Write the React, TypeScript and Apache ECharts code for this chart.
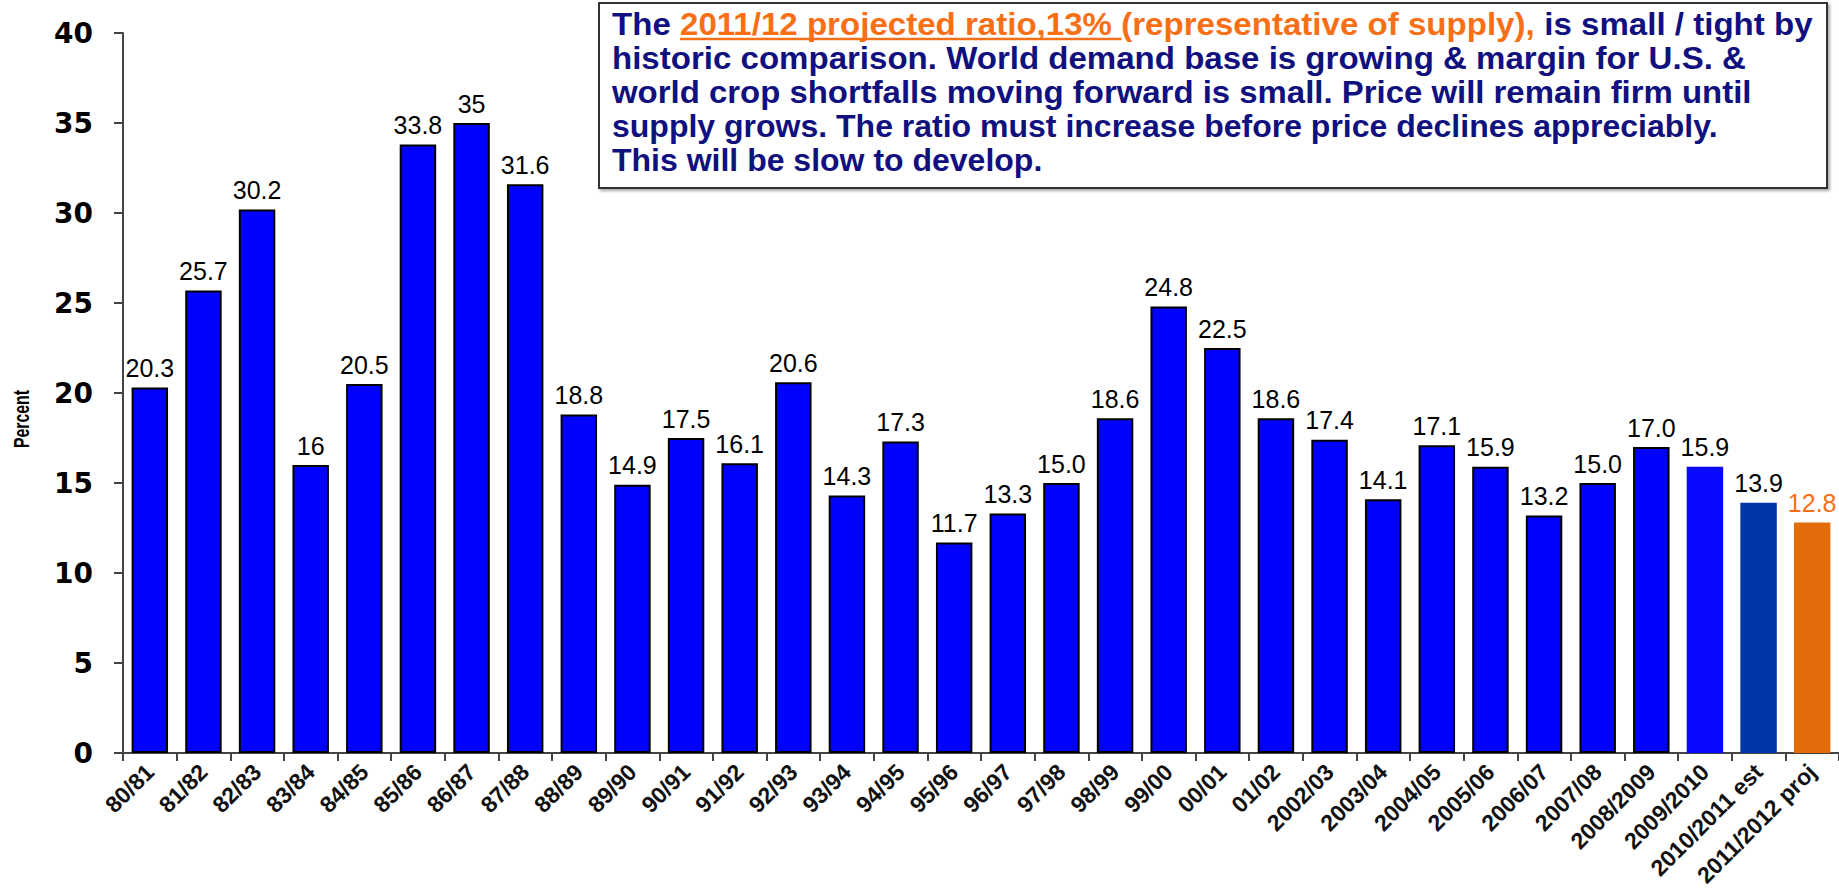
import React, { useEffect, useRef } from "react";
import * as echarts from "echarts";

const categories = [
  "80/81", "81/82", "82/83", "83/84", "84/85", "85/86", "86/87", "87/88",
  "88/89", "89/90", "90/91", "91/92", "92/93", "93/94", "94/95", "95/96",
  "96/97", "97/98", "98/99", "99/00", "00/01", "01/02", "2002/03", "2003/04",
  "2004/05", "2005/06", "2006/07", "2007/08", "2008/2009", "2009/2010",
  "2010/2011 est", "2011/2012 proj",
];

const values = [
  20.3, 25.7, 30.2, 16, 20.5, 33.8, 35, 31.6, 18.8, 14.9, 17.5, 16.1, 20.6,
  14.3, 17.3, 11.7, 13.3, 15.0, 18.6, 24.8, 22.5, 18.6, 17.4, 14.1, 17.1,
  15.9, 13.2, 15.0, 17.0, 15.9, 13.9, 12.8,
];

const valueLabels = [
  "20.3", "25.7", "30.2", "16", "20.5", "33.8", "35", "31.6", "18.8", "14.9",
  "17.5", "16.1", "20.6", "14.3", "17.3", "11.7", "13.3", "15.0", "18.6",
  "24.8", "22.5", "18.6", "17.4", "14.1", "17.1", "15.9", "13.2", "15.0",
  "17.0", "15.9", "13.9", "12.8",
];

const yTicks = { min: 0, max: 40, interval: 5 };

const noteLine1 = {
  pre: "The ",
  underlined: "2011/12 projected ratio,13% ",
  orange: "(representative of supply),",
  post: " is small / tight by",
};
const noteLines = [
  "historic comparison. World demand base is growing & margin for U.S. &",
  "world crop shortfalls moving forward is small. Price will remain firm until",
  "supply grows. The ratio must increase before price declines appreciably.",
  "This will be slow to develop.",
];

const NAVY = "#10107e";
const ORANGE = "#f86f16";
const NOTE_FONT = 'bold 32px "Liberation Sans", Arial, sans-serif';
// target rendered widths of the note lines (px), null = natural width
const lineWidths: (number | null)[] = [1201, 1135, 1140, null, null];

function measure(text: string, font: string): number {
  const c = document.createElement("canvas");
  const ctx = c.getContext("2d");
  if (!ctx) return text.length * 16;
  ctx.font = font;
  return ctx.measureText(text).width;
}

export default function App() {
  const ref = useRef<HTMLDivElement>(null);

  useEffect(() => {
    if (!ref.current) return;
    const chart = echarts.init(ref.current, null, { renderer: "svg" });

    const n = values.length;
    const data = values.map((v, i) => {
      let itemStyle: any = { color: "#0000ff", borderColor: "#000", borderWidth: 2 };
      let labelColor = "#000";
      if (i === n - 3) itemStyle = { color: "#0808ff", borderWidth: 0 };
      if (i === n - 2) itemStyle = { color: "#0036a6", borderWidth: 0 };
      if (i === n - 1) {
        itemStyle = { color: "#e36c0a", borderWidth: 0 };
        labelColor = ORANGE;
      }
      return { value: v, itemStyle, label: { color: labelColor } };
    });

    const textX = 612;
    const baseY = 24;
    const lineGap = 34;
    const line1Full = noteLine1.pre + noteLine1.underlined + noteLine1.orange + noteLine1.post;
    const s1 = lineWidths[0] ? (lineWidths[0] as number) / measure(line1Full, NOTE_FONT) : 1;
    const ulStart = textX + s1 * measure(noteLine1.pre, NOTE_FONT);
    const ulEnd = ulStart + s1 * measure(noteLine1.underlined, NOTE_FONT);

    const richStyle = (fill: string) => ({
      fill,
      fontSize: 32,
      fontWeight: "bold",
      fontFamily: '"Liberation Sans", Arial, sans-serif',
    });

    chart.setOption({
      animation: false,
      grid: {
        left: 123,
        right: 0,
        top: 33,
        bottom: 137,
        containLabel: false,
        outerBoundsMode: "none",
      },
      xAxis: {
        type: "category",
        data: categories,
        axisLine: { show: true, lineStyle: { color: "#444", width: 2 } },
        axisTick: { show: true, alignWithLabel: false, length: 8, lineStyle: { color: "#444", width: 2 } },
        axisLabel: {
          interval: 0,
          rotate: 45,
          margin: 15,
          fontSize: 23,
          fontWeight: "bold",
          fontFamily: '"Liberation Sans", Arial, sans-serif',
          color: "#111",
        },
      },
      yAxis: {
        type: "value",
        min: yTicks.min,
        max: yTicks.max,
        interval: yTicks.interval,
        axisLine: { show: true, lineStyle: { color: "#444", width: 2 } },
        axisTick: { show: true, length: 9, lineStyle: { color: "#444", width: 2 } },
        splitLine: { show: false },
        axisLabel: {
          margin: 30,
          fontSize: 28,
          fontWeight: "bold",
          fontFamily: '"DejaVu Sans", sans-serif',
          color: "#000",
        },
      },
      series: [
        {
          type: "bar",
          data,
          barWidth: "68%",
          label: {
            show: true,
            position: "top",
            distance: 7,
            fontSize: 25,
            fontFamily: '"Liberation Sans", Arial, sans-serif',
            formatter: (p: any) => valueLabels[p.dataIndex],
          },
        },
      ],
      graphic: [
        {
          type: "text",
          x: 22,
          y: 419,
          rotation: Math.PI / 2,
          scaleX: 0.72,
          style: {
            text: "Percent",
            font: 'bold 22px "Liberation Sans", Arial, sans-serif',
            fill: "#000",
            align: "center",
            verticalAlign: "middle",
          },
        },
        {
          type: "rect",
          shape: { x: 599, y: 3, width: 1228, height: 185 },
          style: {
            fill: "#fff",
            stroke: "#333",
            lineWidth: 2,
            shadowBlur: 3,
            shadowOffsetX: 2,
            shadowOffsetY: 2,
            shadowColor: "rgba(0,0,0,0.35)",
          },
          z: 10,
        },
        {
          type: "text",
          x: textX,
          y: baseY,
          scaleX: s1,
          z: 11,
          style: {
            text:
              "{n|" + noteLine1.pre + "}{o|" + noteLine1.underlined + noteLine1.orange + "}{n|" + noteLine1.post + "}",
            verticalAlign: "middle",
            align: "left",
            rich: { n: richStyle(NAVY), o: richStyle(ORANGE) },
          },
        },
        {
          type: "line",
          z: 11,
          shape: { x1: ulStart, y1: 39, x2: ulEnd, y2: 39 },
          style: { stroke: ORANGE, lineWidth: 2.5 },
        },
        ...noteLines.map((t, i) => {
          const w = lineWidths[i + 1];
          const sx = w ? w / measure(t, NOTE_FONT) : 1;
          return {
            type: "text",
            x: textX,
            y: baseY + lineGap * (i + 1),
            scaleX: sx,
            z: 11,
            style: {
              text: t,
              font: NOTE_FONT,
              fill: NAVY,
              align: "left",
              verticalAlign: "middle",
            },
          };
        }),
      ],
    });

    return () => chart.dispose();
  }, []);

  return (
    <div
      ref={ref}
      style={{ position: "fixed", left: 0, top: 0, width: 1839, height: 890, background: "#fff" }}
    />
  );
}
